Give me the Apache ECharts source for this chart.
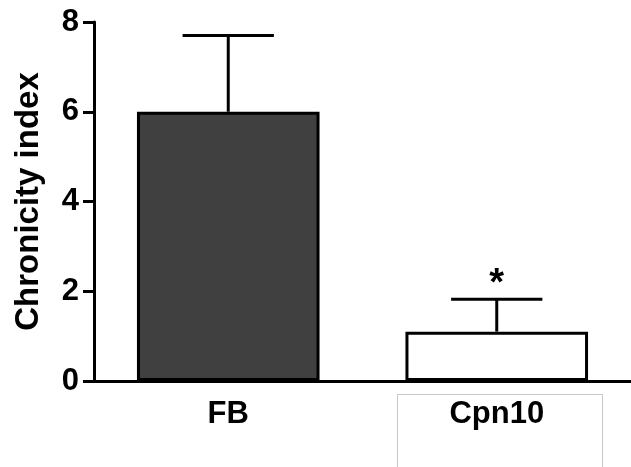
<!DOCTYPE html>
<html>
<head>
<meta charset="utf-8">
<script src="https://cdn.jsdelivr.net/npm/echarts@6/dist/echarts.min.js"></script>
<style>
  html, body { margin: 0; padding: 0; background: #fff; }
  #chart { width: 631px; height: 467px; }
</style>
</head>
<body>
<div id="chart"></div>
<script>
const categories = ['FB', 'Cpn10'];
const means = [6.0, 1.1];
const upper = [7.7, 1.82];
const fills = ['#404040', '#ffffff'];
const marks = ['', '*'];
const yTicks = [0, 2, 4, 6, 8];

const myChart = echarts.init(document.getElementById('chart'));
const font = '"Liberation Sans", Arial, sans-serif';

const option = {
  animation: false,
  grid: { left: 94, right: 0, top: 22, bottom: 86 },
  xAxis: {
    type: 'category',
    data: categories,
    axisLine: { lineStyle: { color: '#000', width: 3 } },
    axisTick: { alignWithLabel: true, length: 11, lineStyle: { color: '#000', width: 3 } },
    axisLabel: { color: '#000', fontFamily: font, fontWeight: 'bold', fontSize: 31, margin: 18 }
  },
  yAxis: {
    type: 'value',
    min: yTicks[0],
    max: yTicks[yTicks.length - 1],
    interval: 2,
    name: 'Chronicity index',
    nameLocation: 'middle',
    nameGap: 49,
    nameTextStyle: { color: '#000', fontFamily: font, fontWeight: 'bold', fontSize: 33 },
    splitLine: { show: false },
    axisLine: { show: true, lineStyle: { color: '#000', width: 3 } },
    axisTick: { show: true, length: 11, lineStyle: { color: '#000', width: 3 } },
    axisLabel: { color: '#000', fontFamily: font, fontWeight: 'bold', fontSize: 31, margin: 15 }
  },
  graphic: [{
    type: 'rect',
    left: 397, top: 394,
    shape: { width: 205, height: 80 },
    style: { fill: '#fff', stroke: '#c8c8c8', lineWidth: 1 },
    z: -1
  }],
  series: [
    {
      type: 'bar',
      barWidth: '68%',
      data: means.map((v, i) => ({ value: v, itemStyle: { color: fills[i] } })),
      itemStyle: { borderColor: '#000', borderWidth: 3 },
      z: 3
    },
    {
      type: 'custom',
      data: means.map((v, i) => [i, v, upper[i]]),
      renderItem: (params, api) => {
        const base = api.coord([api.value(0), api.value(1)]);
        const top = api.coord([api.value(0), api.value(2)]);
        const half = api.size([1, 0])[0] * 0.17;
        const idx = params.dataIndex;
        const children = [
          { type: 'line', shape: { x1: base[0], y1: base[1], x2: top[0], y2: top[1] },
            style: { stroke: '#000', lineWidth: 3 } },
          { type: 'line', shape: { x1: top[0] - half, y1: top[1], x2: top[0] + half, y2: top[1] },
            style: { stroke: '#000', lineWidth: 3 } }
        ];
        if (marks[idx]) {
          children.push({
            type: 'text',
            style: {
              text: marks[idx], x: top[0], y: top[1] + 4,
              align: 'center', verticalAlign: 'bottom',
              font: 'bold 38px ' + font, fill: '#000'
            }
          });
        }
        return { type: 'group', children };
      },
      z: 4
    }
  ]
};

myChart.setOption(option);
</script>
</body>
</html>
